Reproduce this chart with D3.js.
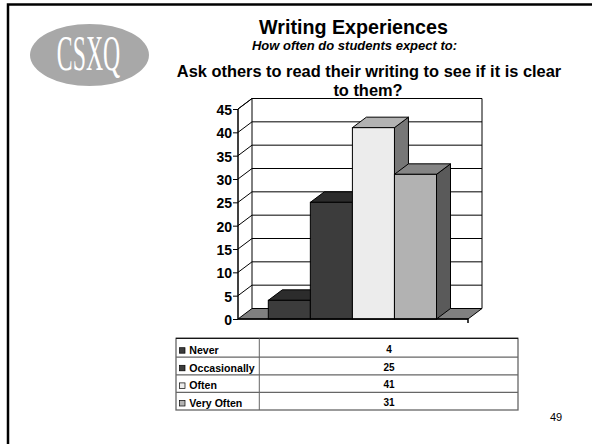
<!DOCTYPE html>
<html>
<head>
<meta charset="utf-8">
<script src="https://cdn.jsdelivr.net/npm/d3@7"></script>
<style>
html, body { margin: 0; padding: 0; background: #fff; }
svg { display: block; }
text { font-family: "Liberation Sans", Arial, sans-serif; fill: #000; }
</style>
</head>
<body>
<svg id="chart" width="592" height="444"></svg>
<script>
var categories = ['Never', 'Occasionally', 'Often', 'Very Often'];
var values = [4, 25, 41, 31];
var yTicks = [0, 5, 10, 15, 20, 25, 30, 35, 40, 45];
var titleLines = ['Ask others to read their writing to see if it is clear', 'to them?'];

// front, top and side shades of each bar
var frontColors = ['#3c3c3c', '#3c3c3c', '#ececec', '#b2b2b2'];
var topColors = ['#2c2c2c', '#2c2c2c', '#b2b2b2', '#858585'];
var sideColors = ['#2c2c2c', '#2c2c2c', '#777777', '#5a5a5a'];
var depth = {x: 14, y: -10.5};

var svg = d3.select('#chart');

//slide frame
svg.append('path')
	.attr('d', 'M592,4.5H8V444')
	.attr('fill', 'none')
	.attr('stroke', '#000')
	.attr('stroke-width', 2.5);

//logo
var logo = svg.append('g');
logo.append('ellipse')
	.attr('cx', 89.5).attr('cy', 55)
	.attr('rx', 59.5).attr('ry', 31)
	.attr('fill', '#a8a8a8');
logo.append('text')
	.attr('transform', 'translate(88.5,70) scale(0.66,1.38)')
	.attr('text-anchor', 'middle')
	.style('font-family', '"Liberation Serif", serif')
	.style('font-size', '36px')
	.style('fill', '#fff')
	.text('CSXQ');

//titles
function title(txt, cx, y, size, italic) {
	svg.append('text')
		.attr('x', cx).attr('y', y)
		.attr('text-anchor', 'middle')
		.style('font-size', size + 'px')
		.style('font-weight', 'bold')
		.style('font-style', italic ? 'italic' : 'normal')
		.text(txt);
}
title('Writing Experiences', 353.5, 34, 19.7, false);
title('How often do students expect to:', 354.5, 50, 13, true);
title(titleLines[0], 369, 76.5, 16.4, false);
title(titleLines[1], 368, 96, 16.4, false);

var x = d3.scaleBand().domain(categories).range([268.3, 436.5]);
var y = d3.scaleLinear().domain([0, 45]).range([319, 109]);
var floorRight = 468;
var floorLeft = 238;

//back walls
svg.append('path')
	.attr('d', d3.line()([
		[floorLeft, y(0)], [floorLeft, y(45)],
		[floorLeft + depth.x, y(45) + depth.y],
		[floorRight + depth.x, y(45) + depth.y],
		[floorRight + depth.x, y(0) + depth.y],
		[floorLeft + depth.x, y(0) + depth.y],
		[floorLeft + depth.x, y(45) + depth.y]
	]))
	.attr('fill', '#fff')
	.attr('stroke', '#000')
	.attr('stroke-width', 1);

//floor
svg.append('path')
	.attr('d', d3.line()([
		[floorLeft, y(0)],
		[floorLeft + depth.x, y(0) + depth.y],
		[floorRight + depth.x, y(0) + depth.y],
		[floorRight, y(0)]
	]) + 'Z')
	.attr('fill', '#808080')
	.attr('stroke', '#000')
	.attr('stroke-width', 1);

//gridlines and their side wall slants
yTicks.slice(1).forEach(function(t) {
	svg.append('path')
		.attr('d', d3.line()([
			[floorLeft, y(t)],
			[floorLeft + depth.x, y(t) + depth.y],
			[floorRight + depth.x, y(t) + depth.y]
		]))
		.attr('fill', 'none')
		.attr('stroke', '#000');
});

//bars
categories.forEach(function(c, i) {
	var bx = x(c), bw = x.bandwidth(), top = y(values[i]), bottom = y(0);
	var g = svg.append('g').attr('stroke', '#000').attr('stroke-width', 1);
	g.append('path')
		.attr('d', d3.line()([
			[bx + bw, top], [bx + bw + depth.x, top + depth.y],
			[bx + bw + depth.x, bottom + depth.y], [bx + bw, bottom]
		]) + 'Z')
		.attr('fill', sideColors[i]);
	g.append('path')
		.attr('d', d3.line()([
			[bx, top], [bx + depth.x, top + depth.y],
			[bx + bw + depth.x, top + depth.y], [bx + bw, top]
		]) + 'Z')
		.attr('fill', topColors[i]);
	g.append('rect')
		.attr('x', bx).attr('y', top)
		.attr('width', bw).attr('height', bottom - top)
		.attr('fill', frontColors[i]);
});

//y axis
var yAxis = d3.axisLeft(y).tickValues(yTicks).tickSize(5).tickPadding(1);
var yg = svg.append('g')
	.attr('transform', 'translate(' + floorLeft + ',0)')
	.call(yAxis);
yg.selectAll('path.domain').attr('stroke', '#000').attr('d', 'M0,' + y(45) + 'V' + y(0));
yg.selectAll('text')
	.attr('y', 1)
	.style('font-family', '"Liberation Sans", Arial, sans-serif')
	.style('font-size', '14px')
	.style('font-weight', 'bold');

//front floor edge ticks
svg.append('path')
	.attr('d', 'M' + floorLeft + ',' + y(0) + 'H' + floorRight + 'v4')
	.attr('fill', 'none')
	.attr('stroke', '#000')
	.attr('stroke-width', 1.5);

//data table
var tableLeft = 176, tableMid = 259.3, tableRight = 518, tableTop = 338.3, tableBottom = 410;
var rows = d3.scaleBand().domain(categories).range([339.6, tableBottom]);
var tableStroke = '#666';

svg.append('rect')
	.attr('x', tableLeft).attr('y', tableTop)
	.attr('width', tableRight - tableLeft).attr('height', tableBottom - tableTop)
	.attr('fill', '#fff')
	.attr('stroke', tableStroke)
	.attr('stroke-width', 1.3);
svg.append('line')
	.attr('x1', tableLeft).attr('x2', tableRight)
	.attr('y1', tableTop).attr('y2', tableTop)
	.attr('stroke', '#000');
svg.append('line')
	.attr('x1', tableMid).attr('x2', tableMid)
	.attr('y1', tableTop).attr('y2', tableBottom)
	.attr('stroke', tableStroke);

categories.forEach(function(c, i) {
	var ry = rows(c), rh = rows.bandwidth();
	if(i > 0) {
		svg.append('line')
			.attr('x1', tableLeft).attr('x2', tableRight)
			.attr('y1', ry).attr('y2', ry)
			.attr('stroke', tableStroke)
			.attr('stroke-width', 1.3);
	}
	svg.append('rect')
		.attr('x', 179.5).attr('y', ry + rh - 9.5)
		.attr('width', 5.5).attr('height', 5.5)
		.attr('fill', frontColors[i])
		.attr('stroke', '#000')
		.attr('stroke-width', 0.7);
	svg.append('text')
		.attr('x', 189.3).attr('y', ry + rh - 3)
		.style('font-size', '10.6px')
		.style('font-weight', 'bold')
		.text(c);
	svg.append('text')
		.attr('x', 389).attr('y', ry + rh - 4)
		.attr('text-anchor', 'middle')
		.style('font-size', '10px')
		.style('font-weight', 'bold')
		.text(values[i]);
});

//page number
svg.append('text')
	.attr('x', 556).attr('y', 421)
	.attr('text-anchor', 'middle')
	.style('font-size', '11px')
	.text('49');
</script>
</body>
</html>
